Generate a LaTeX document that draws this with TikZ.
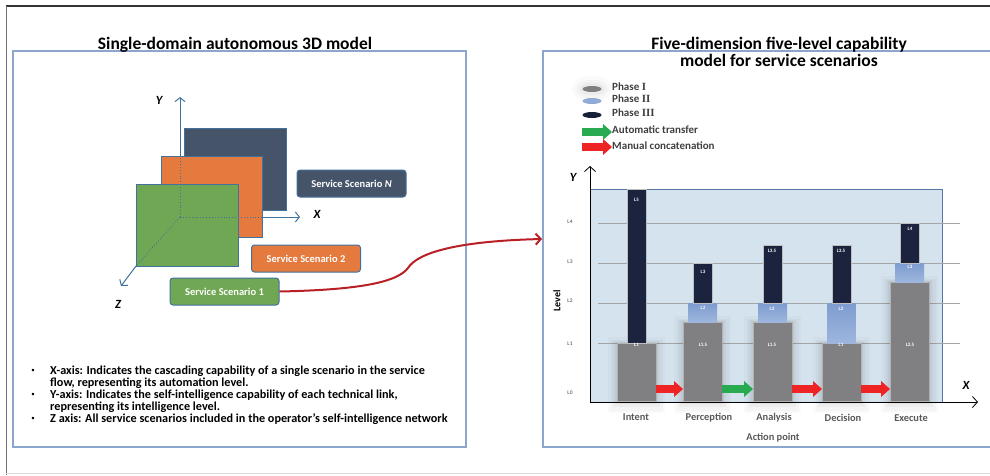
\documentclass[tikz,border=0pt]{standalone}
\usepackage{fontspec}
\setmainfont{Carlito}
\newfontfamily\romfont{Liberation Serif}
\usetikzlibrary{arrows.meta,calc,shapes.geometric}

\definecolor{axisblue}{RGB}{65,113,156}
\definecolor{planeN}{RGB}{70,84,106}
\definecolor{planeO}{RGB}{229,122,62}
\definecolor{planeG}{RGB}{112,167,84}
\definecolor{panelline}{RGB}{140,165,205}
\definecolor{curvered}{RGB}{185,32,38}
\definecolor{chartbg}{RGB}{213,227,238}
\definecolor{chartline}{RGB}{85,120,160}
\definecolor{gridgray}{RGB}{165,165,165}
\definecolor{barGray}{RGB}{128,128,130}
\definecolor{barMidTop}{RGB}{126,156,208}
\definecolor{barMidBot}{RGB}{158,182,222}
\definecolor{barDark}{RGB}{27,35,62}
\definecolor{arrRed}{RGB}{237,35,36}
\definecolor{arrGreen}{RGB}{40,170,80}
\definecolor{labgray}{RGB}{64,64,64}
\definecolor{catgray}{RGB}{89,89,89}

\tikzset{
  titletext/.style={font=\bfseries\fontsize{17.5}{20}\selectfont, inner sep=0, anchor=base},
  plane/.style={draw=axisblue, line width=0.8pt, anchor=north west, inner sep=0, outer sep=0},
  axisvis/.style={axisblue, line width=1pt, -{Straight Barb[length=4pt,width=10pt]}},
  axishid/.style={axisblue, line width=0.9pt, dotted},
  axislab/.style={font=\bfseries\itshape\fontsize{12.5}{14}\selectfont, inner sep=0},
  scen/.style={rounded corners=3pt, draw=axisblue, line width=1pt, text=white,
    font=\bfseries\fontsize{10.5}{12}\selectfont, minimum width=109pt, minimum height=27pt, inner sep=0},
  bullettext/.style={font=\bfseries\fontsize{12.2}{12}\selectfont, inner sep=0, anchor=base west},
  bulletdot/.style={font=\fontsize{7}{8}\selectfont, inner sep=0},
  softglow/.style={
    preaction={draw=black, draw opacity=0.02, line width=18pt, rounded corners=8pt, transform canvas={yshift=-3pt}},
    preaction={draw=black, draw opacity=0.025, line width=13pt, rounded corners=6pt, transform canvas={yshift=-3pt}},
    preaction={draw=black, draw opacity=0.03, line width=8pt, rounded corners=4pt, transform canvas={yshift=-2pt}},
    preaction={draw=black, draw opacity=0.04, line width=4pt, rounded corners=2pt, transform canvas={yshift=-1pt}}},
  gbar/.style={softglow, fill=barGray, draw=gray!60, line width=0.4pt, anchor=south, inner sep=0, outer sep=0,
    minimum width=39pt},
  mbar/.style={top color=barMidTop, bottom color=barMidBot, draw=none, anchor=south, inner sep=0, outer sep=0},
  dbar/.style={fill=barDark, draw=gray!50, line width=0.4pt, anchor=south, inner sep=0, outer sep=0, minimum width=19.5pt},
  blab/.style={text=white, font=\bfseries\fontsize{5}{6}\selectfont, inner sep=0},
  levlab/.style={text=labgray, font=\fontsize{5.5}{6}\selectfont, inner sep=0},
  catlab/.style={text=catgray, font=\bfseries\fontsize{10.4}{12}\selectfont, inner sep=0},
  legtext/.style={text=labgray, font=\bfseries\fontsize{11}{12}\selectfont, inner sep=0, anchor=west},
  legell/.style={ellipse, minimum width=19pt, minimum height=6pt, inner sep=0},
  blockarr/.style={line width=8pt, -{Triangle[length=9pt,width=16pt,line width=0pt]}},
  chartaxis/.style={black, line width=0.8pt, -{Straight Barb[length=5pt,width=11pt]}},
}

\begin{document}
\begin{tikzpicture}[x=1pt,y=-1pt]
\useasboundingbox (0,0) rectangle (990,475);
\fill[white] (0,0) rectangle (990,475);

% outer frame
\draw[line width=1.2pt, black!80] (6,6) -- (990,6);
\draw[line width=1.5pt, black!55] (6.5,6) -- (6.5,475);
\draw[line width=0.8pt, black!15] (6,473) -- (990,473);

% panels
\draw[panelline, line width=1.3pt] (13,51) rectangle (466,447);
\draw[panelline, line width=1.3pt] (992,51) -- (543,51) -- (543,447) -- (992,447);

% titles
\node[titletext] (lefttitle) at (235,49) {Single-domain autonomous 3D model};
\node[titletext] (righttitleA) at (779,49) {Five-dimension five-level capability};
\node[titletext] (righttitleB) at (779,66) {model for service scenarios};

% ---------- left: 3D model ----------
\node[plane, fill=planeN, minimum width=102pt, minimum height=82pt] (pN) at (184,128) {};
\node[plane, fill=planeO, minimum width=101pt, minimum height=81pt] (p2) at (161,156) {};
\node[plane, fill=planeG, minimum width=102pt, minimum height=82pt] (p1) at (136,184) {};

\coordinate (O) at (180,217);
\coordinate (ytip) at (180,97);
\coordinate (xtip) at (300,217);
\coordinate (ztip) at (121,286);

% hidden parts of the axes
\draw[axishid] (O) -- (O|-p2.north);
\draw[axishid] (O) -- (O-|p2.east);
\draw[axishid] (O) -- (p1.south west);
% visible parts of the axes
\draw[axisvis] (O|-p2.north) -- (ytip);
\draw[axisvis] (O-|p2.east) -- (xtip);
\draw[axisvis] (p1.south west) -- (ztip);

\node[axislab] (ylab) at (159,100) {Y};
\node[axislab] (xlab) at (317,214) {X};
\node[axislab] (zlab) at (118,304) {Z};

\node[scen, fill=planeN] (sN) at (351.5,183.5) {Service Scenario \textit{N}};
\node[scen, fill=planeO] (s2) at (306,258.5) {Service Scenario 2};
\node[scen, fill=planeG] (s1) at (224.5,291.5) {Service Scenario 1};

% link to the capability model
\coordinate (cEnd) at (542,239);
\draw[curvered, line width=2pt, -{Straight Barb[length=5pt,width=11pt]}]
  (s1.east) .. controls (350,290) and (396,284) .. (408,268)
  .. controls (418,252) and (460,241) .. (cEnd);

% axis descriptions
\node[bulletdot] (bu1) at (33,371) {•};
\node[bullettext] (bl1) at (50,374) {X-axis: Indicates the cascading capability of a single scenario in the service};
\node[bullettext] (bl2) at (50,386) {flow, representing its automation level.};
\node[bulletdot] (bu2) at (33,395) {•};
\node[bullettext] (bl3) at (50,398) {Y-axis: Indicates the self-intelligence capability of each technical link,};
\node[bullettext] (bl4) at (50,410) {representing its intelligence level.};
\node[bulletdot] (bu3) at (33,419) {•};
\node[bullettext] (bl5) at (50,422) {Z axis: All service scenarios included in the operator's self-intelligence network};

% ---------- right: legend ----------
\node[legell, fill=barGray,
  preaction={draw=black, draw opacity=0.02, line width=20pt},
  preaction={draw=black, draw opacity=0.025, line width=13pt},
  preaction={draw=black, draw opacity=0.03, line width=7pt}] (e1) at (592,89) {};
\node[legell, fill=barMidTop!85!white] (e2) at (592,101) {};
\node[legell, fill=barDark!90!black] (e3) at (592,115) {};
\node[legtext] (lp1) at (612,87) {Phase {\romfont\bfseries I}};
\node[legtext] (lp2) at (612,99) {Phase {\romfont\bfseries II}};
\node[legtext] (lp3) at (612,113) {Phase {\romfont\bfseries III}};

\coordinate (lgA) at (582,132);
\coordinate (lgAe) at (612,132);
\coordinate (lgB) at (582,147);
\coordinate (lgBe) at (612,147);
\draw[blockarr, arrGreen] (lgA) -- (lgAe);
\draw[blockarr, arrRed] (lgB) -- (lgBe);
\node[legtext] (la1) at (612,130) {Automatic transfer};
\node[legtext] (la2) at (612,146) {Manual concatenation};

% ---------- right: chart ----------
\fill[chartbg] (590,189) rectangle (942,402);
\draw[chartline, line width=0.9pt] (590,189) rectangle (942,402);
\foreach \yy in {223,263,303,343}
  \draw[gridgray, line width=0.8pt] (598,\yy) -- (960,\yy);

\node[levlab] (lv4) at (570,222) {L4};
\node[levlab] (lv3) at (570,262) {L3};
\node[levlab] (lv2) at (570,301) {L2};
\node[levlab] (lv1) at (570,344) {L1};
\node[levlab] (lv0) at (570,393) {L0};
\node[rotate=90, font=\bfseries\fontsize{10}{11}\selectfont, inner sep=0] (levtitle) at (557,301) {Level};

% phase I bars
\node[gbar, minimum height=58pt] (g1) at (636.5,401) {};
\node[gbar, minimum height=79pt] (g2) at (702.5,401) {};
\node[gbar, minimum height=79pt] (g3) at (772.5,401) {};
\node[gbar, minimum height=58pt] (g4) at (841.5,401) {};
\node[gbar, minimum height=119pt] (g5) at (909.5,401) {};
% phase II bars
\node[mbar, minimum width=29pt, minimum height=19pt] (m2) at (g2.north) {};
\node[mbar, minimum width=29pt, minimum height=19pt] (m3) at (g3.north) {};
\node[mbar, minimum width=28pt, minimum height=40pt] (m4) at (g4.north) {};
\node[mbar, minimum width=29pt, minimum height=19pt] (m5) at (g5.north) {};
% phase III bars
\node[dbar, minimum height=154pt] (d1) at (g1.north) {};
\node[dbar, minimum height=40pt] (d2) at (m2.north) {};
\node[dbar, minimum height=58pt] (d3) at (m3.north) {};
\node[dbar, minimum height=58pt] (d4) at (m4.north) {};
\node[dbar, minimum height=40pt] (d5) at (m5.north) {};

% bar labels
\node[blab] (t1a) at (636.5,200) {L5};
\node[blab] (t1b) at (636.5,345) {L1};
\node[blab] (t2a) at (703,272) {L3};
\node[blab] (t2b) at (703,308) {L2};
\node[blab] (t2c) at (703,345) {L1.5};
\node[blab] (t3a) at (772,251) {L3.5};
\node[blab] (t3b) at (772,309) {L2};
\node[blab] (t3c) at (772,345) {L1.5};
\node[blab] (t4a) at (841,251) {L3.5};
\node[blab] (t4b) at (841,309) {L2};
\node[blab] (t4c) at (841,345) {L1};
\node[blab] (t5a) at (910,229) {L4};
\node[blab] (t5b) at (910,267) {L3};
\node[blab] (t5c) at (910,345) {L2.5};

% transfers between action points
\coordinate (fy) at (0,389);
\draw[blockarr, arrRed] (g1.east|-fy) -- (g2.west|-fy);
\draw[blockarr, arrGreen] (g2.east|-fy) -- (g3.west|-fy);
\draw[blockarr, arrRed] (g3.east|-fy) -- (g4.west|-fy);
\draw[blockarr, arrRed] (g4.east|-fy) -- (g5.west|-fy);

% chart axes
\coordinate (chO) at (590,402);
\coordinate (chY) at (590,166);
\coordinate (chX) at (978,402);
\draw[chartaxis] (chO) -- (chY);
\draw[chartaxis] (chO) -- (chX);
\node[axislab] (cyl) at (573,177) {Y};
\node[axislab] (cxl) at (966,385) {X};

% action point labels
\node[catlab] (c1) at (636,417) {Intent};
\node[catlab] (c2) at (709,418) {Perception};
\node[catlab] (c3) at (774,418) {Analysis};
\node[catlab] (c4) at (843,418) {Decision};
\node[catlab] (c5) at (911,418) {Execute};
\node[catlab] (ctitle) at (773,438) {Action point};
\end{tikzpicture}
\end{document}
